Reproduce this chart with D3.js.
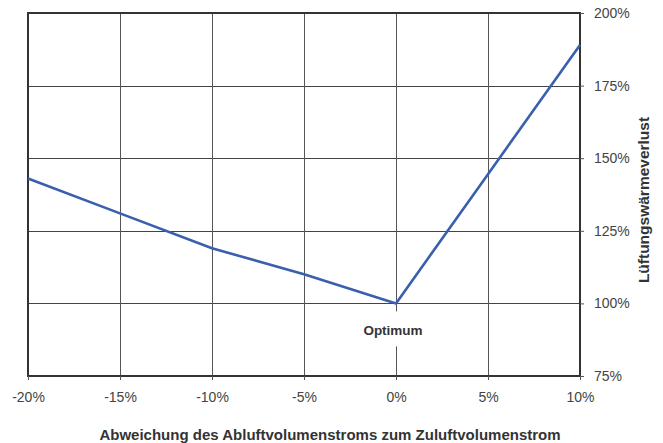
<!DOCTYPE html>
<html>
<head>
<meta charset="utf-8">
<script src="https://cdnjs.cloudflare.com/ajax/libs/d3/7.8.5/d3.min.js"></script>
<style>
  body { margin: 0; background: #fff; }
  text { font-family: "Liberation Sans", Arial, sans-serif; }
</style>
</head>
<body>
<div id="chart"></div>
<script>
// Abweichung in %
const abweichung = [-20, -15, -10, -5, 0, 5, 10];
// Lüftungswärmeverlust in %
const verlust = [143, 131, 119, 110, 100, 144.5, 189];
const xTicks = [-20, -15, -10, -5, 0, 5, 10];
const yTicks = [75, 100, 125, 150, 175, 200];

const W = 663, H = 443;
const margin = { top: 13, right: 83, bottom: 67, left: 28 };
const width = W - margin.left - margin.right,
  height = H - margin.top - margin.bottom;

const svg = d3.select("#chart").append("svg")
  .attr("width", W).attr("height", H);
const g = svg.append("g")
  .attr("transform", "translate(" + margin.left + "," + margin.top + ")");

const x = d3.scaleLinear().domain([-20, 10]).range([0, width]);
const y = d3.scaleLinear().domain([75, 200]).range([height, 0]);

// Gitter
g.append("g").selectAll("line").data(yTicks).join("line")
  .attr("x1", 0).attr("x2", width)
  .attr("y1", d => Math.round(y(d)) + 0.5).attr("y2", d => Math.round(y(d)) + 0.5)
  .attr("stroke", "#444").attr("stroke-width", 1);
g.append("g").selectAll("line").data(xTicks).join("line")
  .attr("x1", d => Math.round(x(d)) + 0.5).attr("x2", d => Math.round(x(d)) + 0.5)
  .attr("y1", 0).attr("y2", height)
  .attr("stroke", "#555").attr("stroke-width", 1);

// Rahmen
g.append("rect").attr("x", 0).attr("y", 0)
  .attr("width", width).attr("height", height)
  .attr("fill", "none").attr("stroke", "#333").attr("stroke-width", 2);

// x-Achse
const xAxis = d3.axisBottom(x).tickValues(xTicks)
  .tickFormat(d => d + "%").tickSize(4).tickPadding(12);
const gx = g.append("g").attr("transform", "translate(0," + height + ")").call(xAxis);
gx.select(".domain").remove();
gx.selectAll(".tick line").attr("stroke", "#555");
gx.selectAll(".tick text").attr("fill", "#444").attr("font-size", "14px")
  .attr("font-family", "Liberation Sans, Arial, sans-serif");

// y-Achse rechts
const yAxis = d3.axisRight(y).tickValues(yTicks)
  .tickFormat(d => d + "%").tickSize(4).tickPadding(10);
const gy = g.append("g").attr("transform", "translate(" + width + ",0)").call(yAxis);
gy.select(".domain").remove();
gy.selectAll(".tick line").attr("stroke", "#555");
gy.selectAll(".tick text").attr("fill", "#444").attr("font-size", "14px")
  .attr("font-family", "Liberation Sans, Arial, sans-serif");

// Label Optimum mit Lücke in der Gitterlinie
g.append("rect")
  .attr("x", x(0) - 34).attr("y", y(100) + 8)
  .attr("width", 68).attr("height", 35).attr("fill", "#fff");
g.append("text")
  .attr("x", x(0) - 3).attr("y", y(100) + 32)
  .attr("text-anchor", "middle").attr("font-size", "13.5px")
  .attr("font-weight", "bold").attr("fill", "#333")
  .text("Optimum");

// Kurve
const line = d3.line().x((d, i) => x(abweichung[i])).y(d => y(d));
g.append("path").datum(verlust)
  .attr("fill", "none").attr("stroke", "#3a5fad")
  .attr("stroke-width", 2.6).attr("stroke-linejoin", "round")
  .attr("d", line);

// Achsentitel
svg.append("text")
  .attr("x", 330).attr("y", 440)
  .attr("text-anchor", "middle").attr("font-size", "15px")
  .attr("font-weight", "bold").attr("fill", "#333")
  .text("Abweichung des Abluftvolumenstroms zum Zuluftvolumenstrom");

svg.append("text")
  .attr("transform", "translate(649,200) rotate(-90)")
  .attr("text-anchor", "middle").attr("font-size", "15.5px")
  .attr("font-weight", "bold").attr("fill", "#333")
  .text("Lüftungswärmeverlust");
</script>
</body>
</html>
